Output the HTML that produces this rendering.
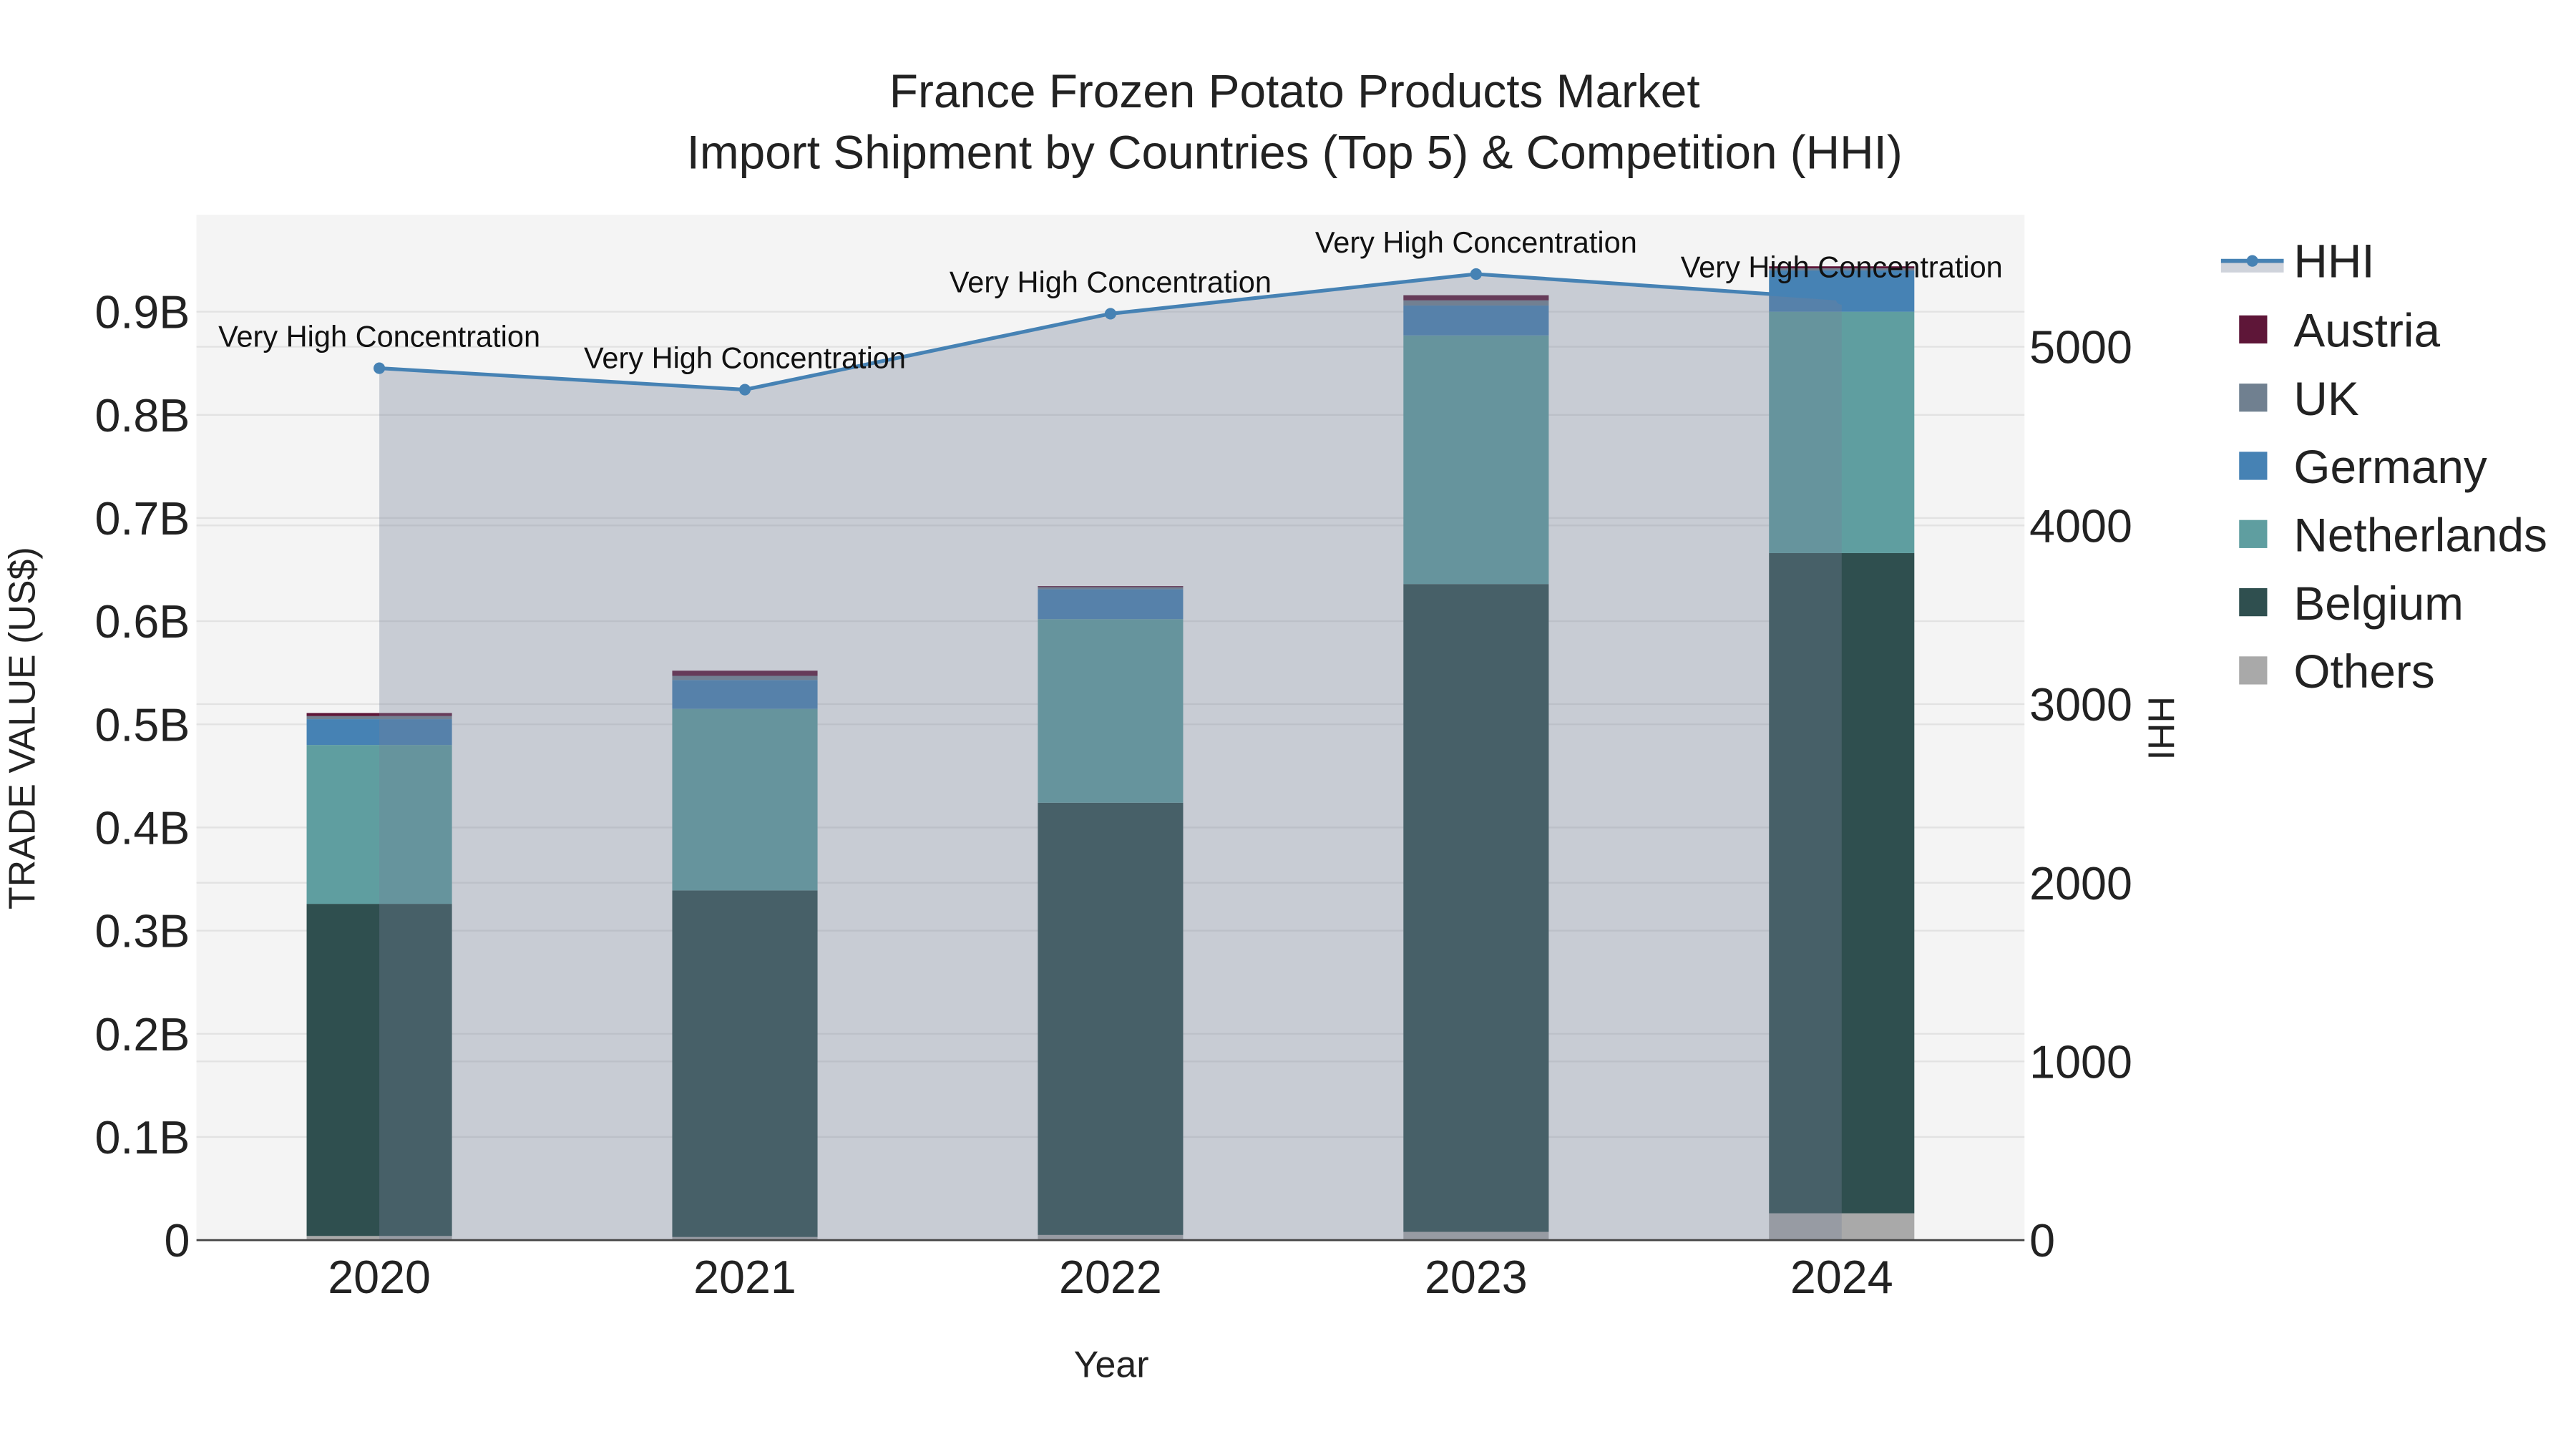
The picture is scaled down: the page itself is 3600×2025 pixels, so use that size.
<!DOCTYPE html>
<html><head><meta charset="utf-8"><style>
html,body{margin:0;padding:0;background:#fff;}
svg{display:block;font-family:"Liberation Sans",sans-serif;}
</style></head><body>
<svg id="chart" width="3600" height="2025" viewBox="0 0 1560 877.5" xmlns="http://www.w3.org/2000/svg">
<rect x="0" y="0" width="1560" height="877.5" fill="#ffffff"/>
<rect x="119" y="130" width="1107" height="621" fill="#f4f4f4"/>
<g id="grid"></g><g id="bars"></g><g id="hhi"></g><g id="axes"></g>
<text x="784" y="65" font-size="28.5" text-anchor="middle" fill="#222">France Frozen Potato Products Market</text>
<text x="784" y="102" font-size="28.5" text-anchor="middle" fill="#222">Import Shipment by Countries (Top 5) &amp; Competition (HHI)</text>
<text x="673" y="834" font-size="22.5" text-anchor="middle" fill="#222">Year</text>
<text transform="translate(21,441) rotate(-90)" font-size="22.5" text-anchor="middle" fill="#222">TRADE VALUE (US$)</text>
<text transform="translate(1301,441) rotate(90)" font-size="22.5" text-anchor="middle" fill="#222">HHI</text>
<g id="legend"></g>
</svg>
<script>
const years = ["2020","2021","2022","2023","2024"];
const others = [0.004,0.003,0.005,0.008,0.026];
const belgium = [0.322,0.336,0.419,0.628,0.640];
const netherlands = [0.154,0.176,0.178,0.241,0.234];
const germany = [0.025,0.028,0.029,0.029,0.040];
const uk = [0.003,0.004,0.002,0.005,0.002];
const austria = [0.003,0.005,0.001,0.005,0.002];
const hhi = [4880,4760,5185,5407,5268];
const yTicks = [0,0.1,0.2,0.3,0.4,0.5,0.6,0.7,0.8,0.9];
const yTickLabels = ["0","0.1B","0.2B","0.3B","0.4B","0.5B","0.6B","0.7B","0.8B","0.9B"];
const y2Ticks = [0,1000,2000,3000,4000,5000];

const NS="http://www.w3.org/2000/svg";
const X0=119,X1=1226,Y0=751;
const band=(X1-X0)/years.length;
const xs=i=>X0+band*(i+0.5);
const ys=v=>Y0-v*624.7;
const y2=v=>Y0-v*0.1082;
function mk(tag,attrs,parent,txt){const e=document.createElementNS(NS,tag);for(const k in attrs)e.setAttribute(k,attrs[k]);if(txt!==undefined)e.textContent=txt;parent.appendChild(e);return e;}
const grid=document.getElementById('grid'),bars=document.getElementById('bars'),hg=document.getElementById('hhi'),axes=document.getElementById('axes'),leg=document.getElementById('legend');

yTicks.forEach((t,i)=>{
  const l=mk('line',{x1:X0,x2:X1,y1:ys(t),y2:ys(t),stroke:'#e2e2e2','stroke-width':1},grid);
  
  
  const tx=mk('text',{x:115,y:ys(t)+10,'font-size':28,'text-anchor':'end',fill:'#222'},axes,yTickLabels[i]);
  
  
});
y2Ticks.forEach(t=>{
  const l=mk('line',{x1:X0,x2:X1,y1:y2(t),y2:y2(t),stroke:'#e2e2e2','stroke-width':1},grid);
  
  
  const tx=mk('text',{x:1229,y:y2(t)+10,'font-size':28,fill:'#222'},axes,String(t));
  
  
});
const series=[["Others",others,"#a9a9a9"],["Belgium",belgium,"#2f4f4f"],["Netherlands",netherlands,"#5f9ea0"],["Germany",germany,"#4682b4"],["UK",uk,"#708090"],["Austria",austria,"#5e1638"]];
years.forEach((yr,i)=>{
  let acc=0;
  series.forEach(s=>{
    const v=s[1][i];
    const r=mk('rect',{x:xs(i)-44,width:88,y:ys(acc+v),height:ys(acc)-ys(acc+v),fill:s[2]},bars);
    
    
    acc+=v;
  });
  const tx=mk('text',{x:xs(i),y:783,'font-size':28,'text-anchor':'middle',fill:'#222'},axes,yr);
  
  
});
let pts=hhi.map((v,i)=>xs(i)+','+y2(v)).join(' ');
const area=mk('polygon',{points:xs(0)+','+Y0+' '+pts+' '+xs(hhi.length-1)+','+Y0,fill:'rgba(118,130,153,0.35)'},hg);


const line=mk('polyline',{points:pts,fill:'none',stroke:'#4682b4','stroke-width':2.2},hg);


hhi.forEach((v,i)=>{
  const c=mk('circle',{cx:xs(i),cy:y2(v),r:3.5,fill:'#4682b4'},hg);
  
  
  const t=mk('text',{x:xs(i),y:y2(v)-13,'font-size':18,'text-anchor':'middle',fill:'#111'},hg,'Very High Concentration');
  
  
});
const ax=mk('line',{x1:X0,x2:X1,y1:Y0,y2:Y0,stroke:'#444','stroke-width':1.2},axes);


// legend
const lh=mk('line',{x1:1345,x2:1383,y1:158,y2:158,stroke:'#4682b4','stroke-width':2.5},leg);


const lha=mk('rect',{x:1345,y:159,width:38,height:6,fill:'rgba(118,130,153,0.35)'},leg);


const lhc=mk('circle',{cx:1364,cy:158,r:3.5,fill:'#4682b4'},leg);


const lt=mk('text',{x:1389,y:168,'font-size':28.5,fill:'#222'},leg,'HHI');


const legOrder=[["Austria","#5e1638"],["UK","#708090"],["Germany","#4682b4"],["Netherlands","#5f9ea0"],["Belgium","#2f4f4f"],["Others","#a9a9a9"]];
legOrder.forEach((e,k)=>{
  const cy=200+k*41.3;
  const r=mk('rect',{x:1356,y:cy-9,width:17,height:17,fill:e[1]},leg);
  
  
  const t=mk('text',{x:1389,y:cy+10,'font-size':28.5,fill:'#222'},leg,e[0]);
  
  
});
</script>
</body></html>
